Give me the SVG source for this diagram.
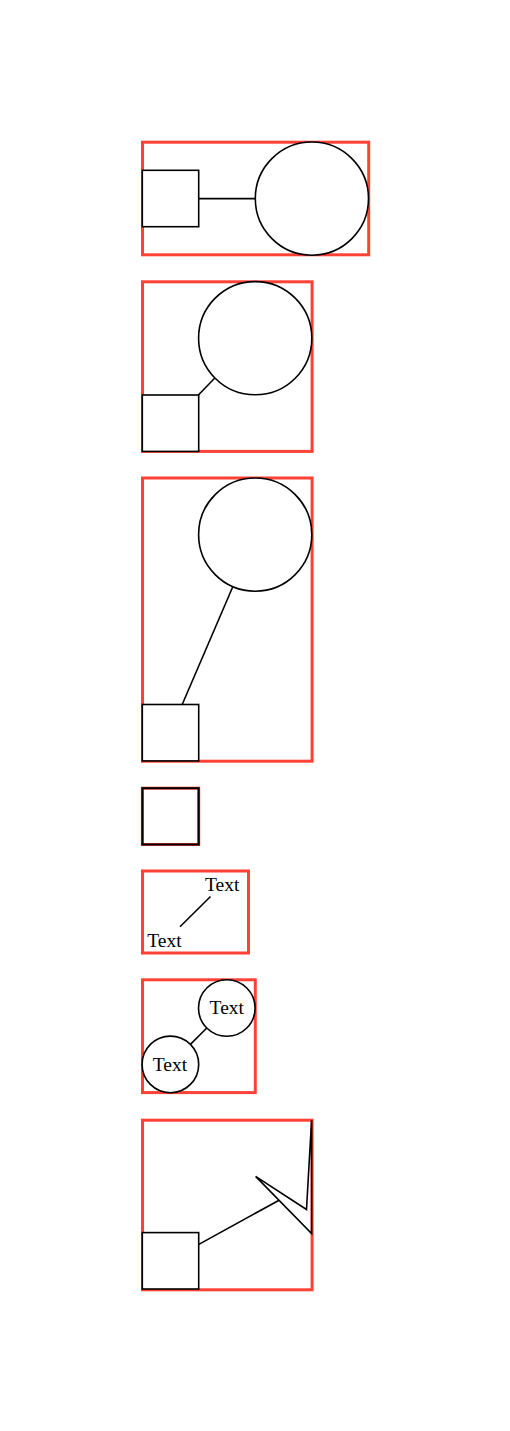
<svg xmlns="http://www.w3.org/2000/svg" width="510" height="1431" viewBox="0 0 510 1431">
<style>
.frame{fill:none;stroke:#ff4136;stroke-width:3}
.shape{fill:#fff;stroke:#000;stroke-width:1.6}
.edge{fill:none;stroke:#000;stroke-width:1.6}
.lbl{font-family:"Liberation Serif","Times New Roman",serif;font-size:19.5px;fill:#000}
</style>
<rect width="510" height="1431" fill="#fff"/>
<g id="frames">
<rect class="frame" x="142.5" y="142.2" width="226.2" height="112.6"/>
<rect class="frame" x="142.5" y="281.8" width="169.6" height="169.6"/>
<rect class="frame" x="142.5" y="478" width="169.6" height="283.2"/>
<rect class="frame" x="142.4" y="788.2" width="56.3" height="56.3"/>
<rect class="frame" x="142.5" y="871" width="106" height="82"/>
<rect class="frame" x="142.5" y="979.8" width="112.8" height="112.8"/>
<rect class="frame" x="142.5" y="1120.2" width="169.6" height="169.6"/>
</g>
<g id="connectors">
<line class="edge" x1="198.7" y1="198.6" x2="255.1" y2="198.6"/>
<line class="edge" x1="198.4" y1="395" x2="214.6" y2="378.3"/>
<line class="edge" x1="182.3" y1="704.3" x2="232.8" y2="586.7"/>
<line class="edge" x1="180" y1="926.7" x2="210.5" y2="896.5"/>
<line class="edge" x1="190.4" y1="1044.4" x2="206.8" y2="1028"/>
<line class="edge" x1="198.4" y1="1244.6" x2="278.6" y2="1200.5"/>
<polygon class="edge" points="311.6,1120 306.5,1209.5 255.6,1176.4 311.6,1233.6"/>
</g>
<g id="n1a"><rect class="shape" x="142.3" y="170.3" width="56.4" height="56.4"/></g>
<g id="n1b"><circle class="shape" cx="311.9" cy="198.6" r="56.6"/></g>
<g id="n2a"><rect class="shape" x="142.3" y="395" width="56.4" height="56.4"/></g>
<g id="n2b"><circle class="shape" cx="255.2" cy="338.2" r="56.6"/></g>
<g id="n3a"><rect class="shape" x="142.3" y="704.5" width="56.4" height="56.4"/></g>
<g id="n3b"><circle class="shape" cx="255.2" cy="534.6" r="56.6"/></g>
<g id="n4"><rect x="142.4" y="788.2" width="56.3" height="56.3" fill="none" stroke="#000" stroke-width="2"/></g>
<g id="n5a"><text class="lbl" x="205" y="891">Text</text></g>
<g id="n5b"><text class="lbl" x="147.3" y="946.7">Text</text></g>
<g id="n6a"><circle class="shape" cx="226.8" cy="1008" r="28.3"/><text class="lbl" x="226.8" y="1014.4" text-anchor="middle">Text</text></g>
<g id="n6b"><circle class="shape" cx="170.4" cy="1064.4" r="28.3"/><text class="lbl" x="170" y="1070.8" text-anchor="middle">Text</text></g>
<g id="n7"><rect class="shape" x="142.3" y="1232.6" width="56.4" height="56.4"/></g>
</svg>
